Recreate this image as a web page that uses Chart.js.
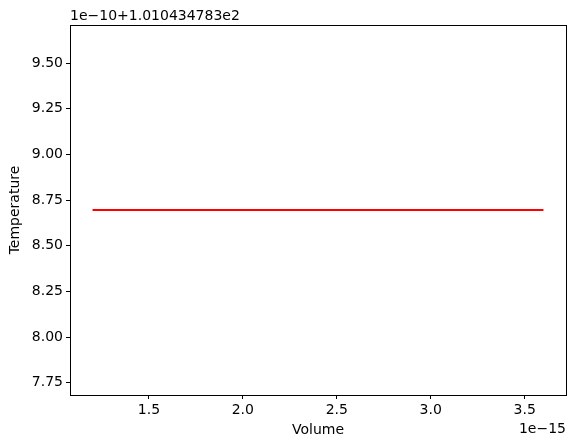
<!DOCTYPE html>
<html lang="en">
<head>
  <meta charset="UTF-8">
  <title>Temperature vs Volume</title>
  <style>
    * { margin: 0; padding: 0; box-sizing: border-box; }
    body { width: 576px; height: 448px; background: #fff; }
    #chart { display: block; }
  </style>
</head>
<body>
  <canvas id="chart" width="576" height="448"></canvas>

  <script src="https://cdn.jsdelivr.net/npm/chart.js"></script>
  <script>
    // volume in units of 1e-15, temperature as offset from 1.010434783e2 in units of 1e-10
    const volume = [1.2, 1.6, 2.0, 2.4, 2.8, 3.2, 3.6];
    const temperature = [8.695, 8.695, 8.695, 8.695, 8.695, 8.695, 8.695];
    const xTicks = [1.5, 2.0, 2.5, 3.0, 3.5];
    const yTicks = [7.75, 8.00, 8.25, 8.50, 8.75, 9.00, 9.25, 9.50];
    const xOffsetLabel = '1e\u221215';
    const yOffsetLabel = '1e\u221210+1.010434783e2';

    const FONT = 'DejaVu Sans';
    const SIZE = 14;

    // frame + offset text like matplotlib
    const framePlugin = {
      id: 'frame',
      afterDraw(chart) {
        const { ctx, chartArea: a } = chart;
        ctx.save();
        ctx.strokeStyle = '#000';
        ctx.lineWidth = 1;
        ctx.strokeRect(Math.round(a.left) + 0.5, Math.round(a.top) + 0.5,
          Math.round(a.right - a.left), Math.round(a.bottom - a.top));
        ctx.fillStyle = '#000';
        ctx.font = SIZE + 'px "' + FONT + '"';
        ctx.textAlign = 'left';
        ctx.textBaseline = 'alphabetic';
        ctx.fillText(yOffsetLabel, a.left, a.top - 5);
        ctx.textAlign = 'right';
        ctx.fillText(xOffsetLabel, a.right, a.bottom + 38);
        ctx.restore();
      }
    };

    const points = volume.map((v, i) => ({ x: v, y: temperature[i] }));

    new Chart(document.getElementById('chart'), {
      type: 'line',
      data: {
        datasets: [{
          data: points,
          borderColor: '#ff0000',
          borderWidth: 2,
          pointRadius: 0,
          fill: false,
          tension: 0
        }]
      },
      options: {
        responsive: false,
        animation: false,
        layout: { padding: { top: 25, right: 10, left: 0, bottom: 0 } },
        plugins: {
          legend: { display: false },
          tooltip: { enabled: false }
        },
        scales: {
          x: {
            type: 'linear',
            min: 1.08,
            max: 3.72,
            afterBuildTicks: s => { s.ticks = xTicks.map(v => ({ value: v })); },
            afterFit: s => { s.height = 53; },
            grid: { drawOnChartArea: false, drawTicks: true, tickLength: 4, color: '#000' },
            border: { display: true, color: '#000' },
            ticks: {
              color: '#000',
              padding: 3,
              maxRotation: 0,
              font: { family: FONT, size: SIZE },
              callback: v => v.toFixed(1)
            },
            title: {
              display: true,
              text: 'Volume',
              color: '#000',
              font: { family: FONT, size: SIZE },
              padding: { top: 0, bottom: 9 }
            }
          },
          y: {
            type: 'linear',
            min: 7.683,
            max: 9.708,
            afterBuildTicks: s => { s.ticks = yTicks.map(v => ({ value: v })); },
            afterFit: s => { s.width = 70; },
            grid: { drawOnChartArea: false, drawTicks: true, tickLength: 4, color: '#000' },
            border: { display: true, color: '#000' },
            ticks: {
              color: '#000',
              padding: 3,
              font: { family: FONT, size: SIZE },
              callback: v => v.toFixed(2)
            },
            title: {
              display: true,
              text: 'Temperature',
              color: '#000',
              font: { family: FONT, size: SIZE },
              padding: { top: 7, bottom: 0 }
            }
          }
        }
      },
      plugins: [framePlugin]
    });
  </script>
</body>
</html>
